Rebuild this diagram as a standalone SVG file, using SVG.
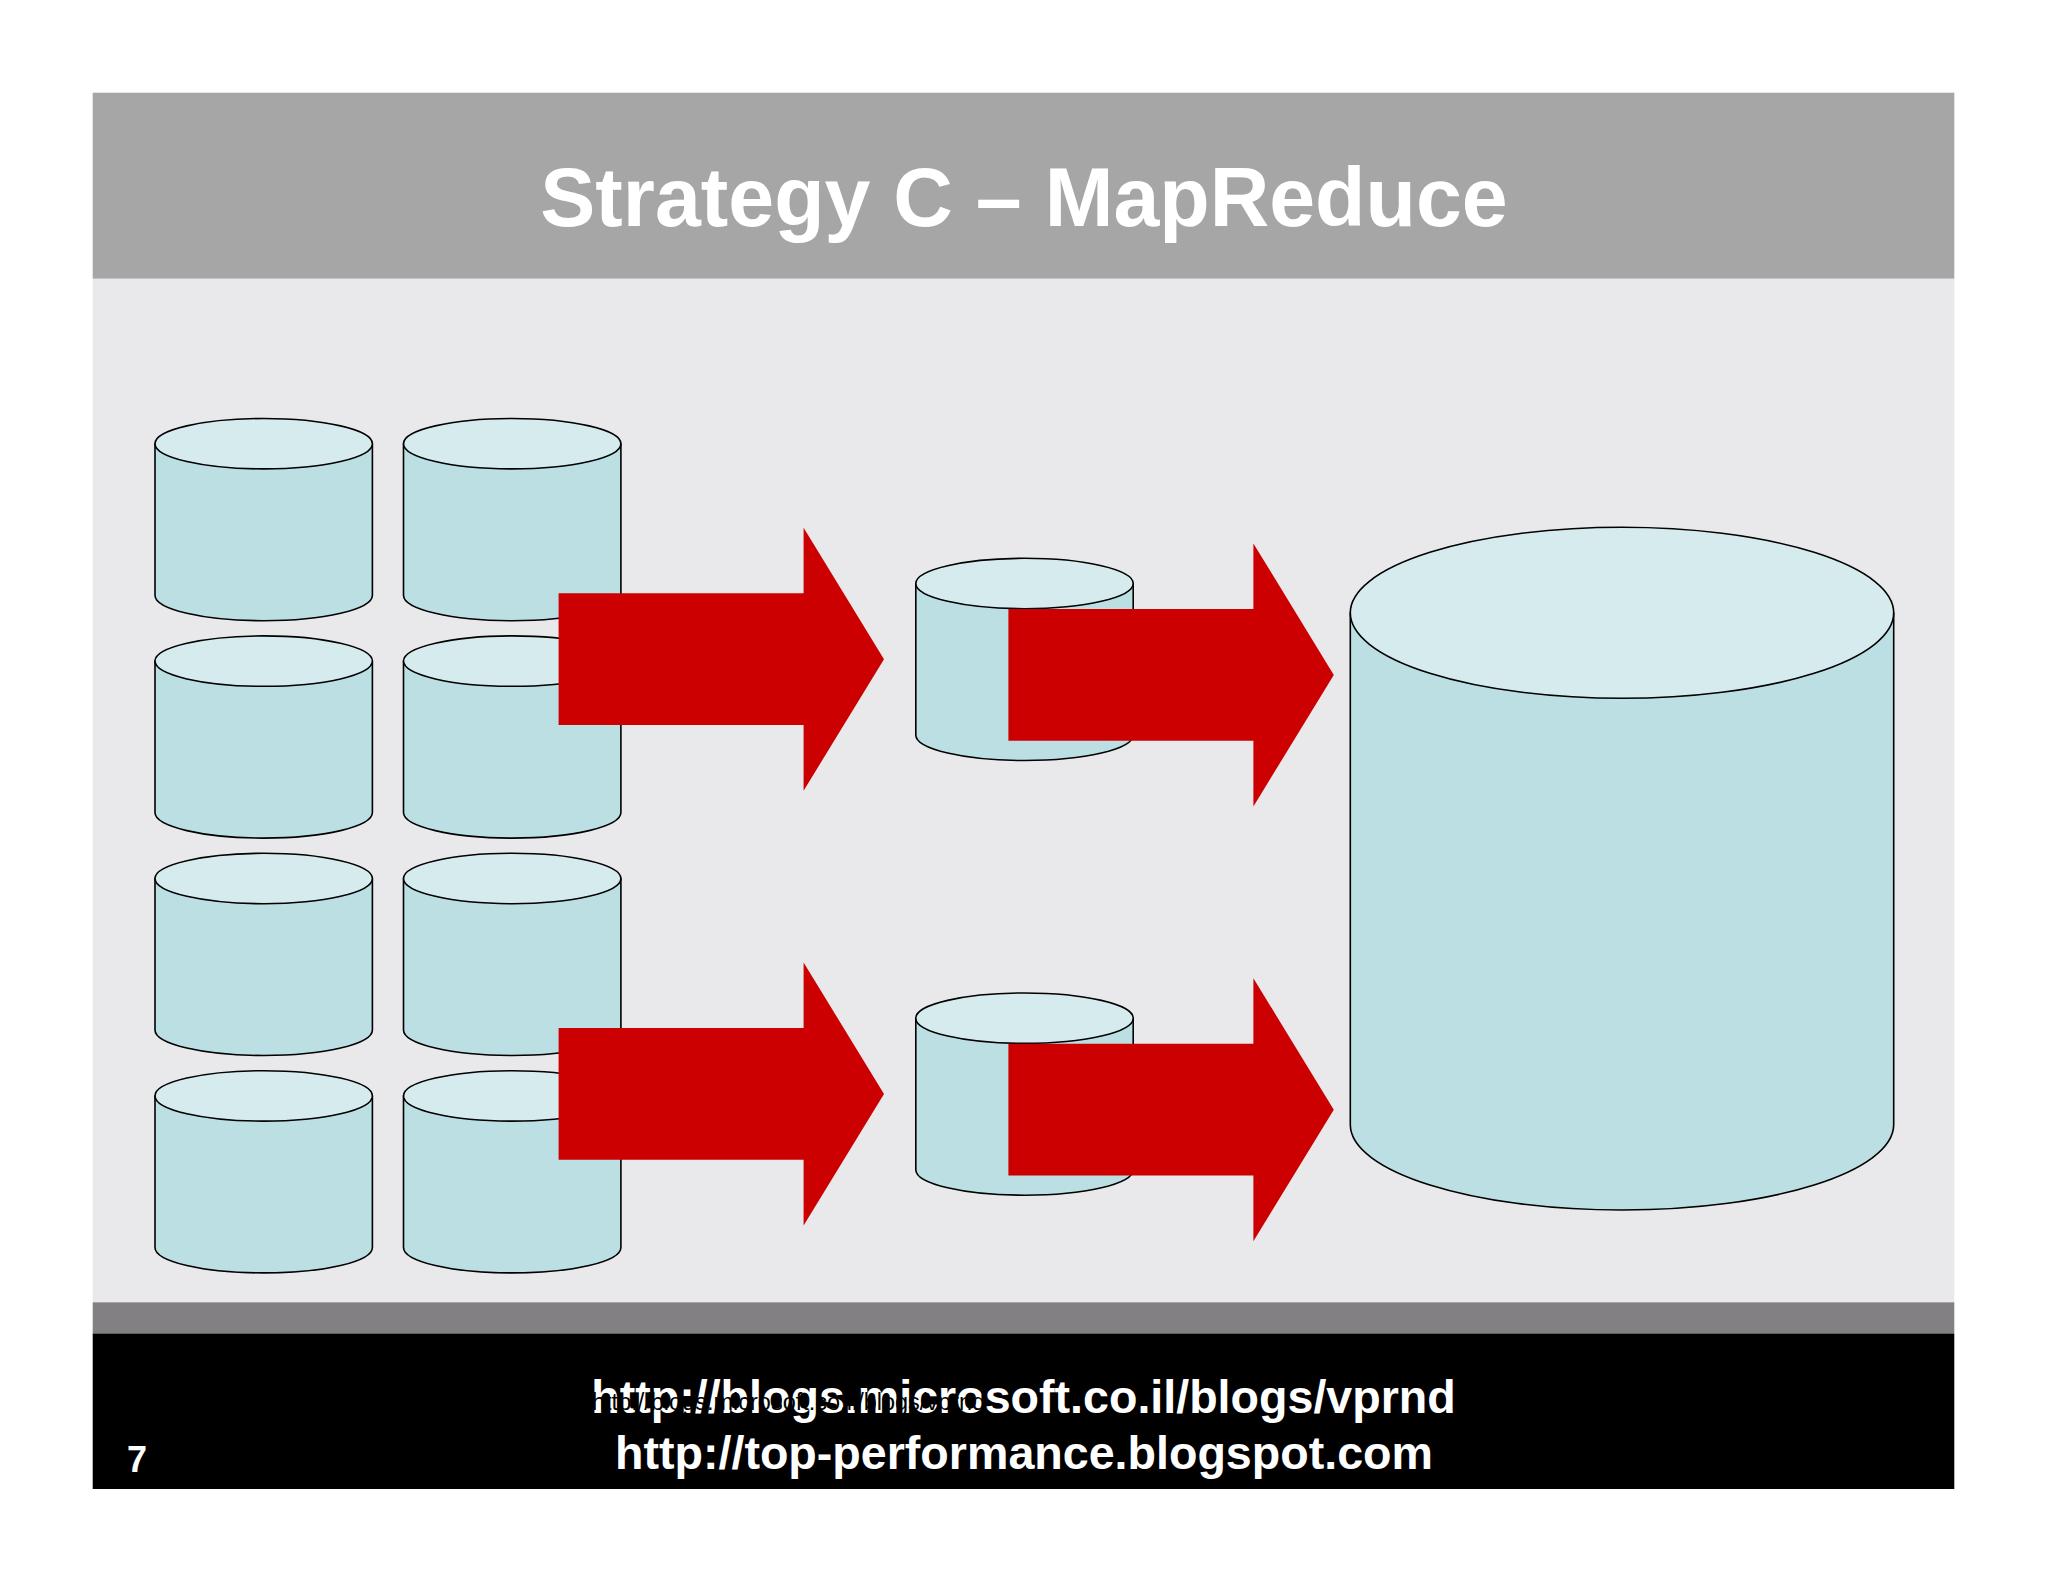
<svg xmlns="http://www.w3.org/2000/svg" xmlns:xlink="http://www.w3.org/1999/xlink" width="2048" height="1582" viewBox="0 0 2048 1582">
<style>
text{font-family:"Liberation Sans",Arial,sans-serif;font-weight:700;fill:#fff}
.side{fill:#bbdfe3;stroke:#000;stroke-width:1.6;stroke-linejoin:round}
.top{fill:#d6ebed;stroke:#000;stroke-width:1.6}
.arrow{fill:#cc0000}
</style>
<defs>
<g id="cyl"><path class="side" d="M0 25.2V176.7C0 190.8 48.6 202.2 108.7 202.2S217.4 190.8 217.4 176.7V25.2Z"/><ellipse class="top" cx="108.7" cy="25.2" rx="108.7" ry="25.2"/></g>
<polygon id="arr" class="arrow" points="0,65.6 245,65.6 245,0 325.4,131.6 245,263 245,197.3 0,197.3"/>
</defs>
<rect width="2048" height="1582" fill="#fff"/>
<rect x="92.7" y="92.7" width="1861.6" height="186.1" fill="#a6a6a6"/>
<rect x="92.7" y="278.8" width="1861.6" height="1023.5" fill="#e9e8ea"/>
<rect x="92.7" y="1302.3" width="1861.6" height="31.2" fill="#828083"/>
<rect x="92.7" y="1333.5" width="1861.6" height="155.5" fill="#000"/>
<text id="title" x="1024" y="226" font-size="82.5" text-anchor="middle">Strategy C – MapReduce</text>
<g id="cyl-1"><use xlink:href="#cyl" x="155" y="418.5"/></g>
<g id="cyl-2"><use xlink:href="#cyl" x="403.5" y="418.5"/></g>
<g id="cyl-3"><use xlink:href="#cyl" x="155" y="635.9"/></g>
<g id="cyl-4"><use xlink:href="#cyl" x="403.5" y="635.9"/></g>
<g id="cyl-5"><use xlink:href="#cyl" x="155" y="853.3"/></g>
<g id="cyl-6"><use xlink:href="#cyl" x="403.5" y="853.3"/></g>
<g id="cyl-7"><use xlink:href="#cyl" x="155" y="1070.7"/></g>
<g id="cyl-8"><use xlink:href="#cyl" x="403.5" y="1070.7"/></g>
<g id="cyl-9"><use xlink:href="#cyl" x="915.8" y="558.3"/></g>
<g id="cyl-10"><use xlink:href="#cyl" x="915.8" y="993"/></g>
<g id="cyl-big"><path class="side" d="M1350.3 612.8V1124.5C1350.3 1171.7 1472 1210 1622 1210S1893.7 1171.7 1893.7 1124.5V612.8Z"/><ellipse class="top" cx="1622" cy="612.8" rx="271.7" ry="85.5"/></g>
<g id="connectors">
<use xlink:href="#arr" x="558.6" y="527.7"/>
<use xlink:href="#arr" x="1008.4" y="543.4"/>
<use xlink:href="#arr" x="558.6" y="962.5"/>
<use xlink:href="#arr" x="1008.4" y="978.2"/>
</g>
<g id="footer">
<text x="1023.5" y="1412.5" font-size="46.6" text-anchor="middle">http://blogs.microsoft.co.il/blogs/vprnd</text>
<text x="1024" y="1468.5" font-size="46.6" text-anchor="middle">http://top-performance.blogspot.com</text>
<text x="592" y="1410" font-size="23.5" style="fill:#000;font-weight:400">http://blogs.microsoft.co.il/blogs/vprnd</text>
<text x="127" y="1471.7" font-size="36">7</text>
</g>
</svg>
